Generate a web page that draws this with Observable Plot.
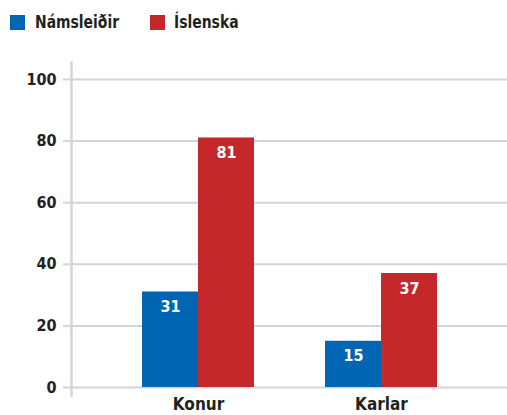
<!DOCTYPE html>
<html><head><meta charset="utf-8">
<script src="https://cdn.jsdelivr.net/npm/d3@7"></script>
<script src="https://cdn.jsdelivr.net/npm/@observablehq/plot@0.6"></script>
<style>
body{margin:0;background:#fff;font-family:"DejaVu Sans Condensed","Liberation Sans Narrow",sans-serif;color:#231f20;}
#legend{position:relative;height:40px;width:507px;font-weight:bold;font-size:18px;}
#legend .sw{position:absolute;top:15px;width:15px;height:15px;}
#legend .lb{position:absolute;top:11px;line-height:22px;transform:scaleX(0.86);transform-origin:left center;white-space:nowrap;}
</style></head>
<body>
<div id="legend"></div>
<div id="chart"></div>
<script>
const groups = ["Konur", "Karlar"];
const series = ["Námsleiðir", "Íslenska"];
const namsleidir = [31, 15];
const islenska = [81, 37];
const yTicks = [0, 20, 40, 60, 80, 100];
const colors = ["#0066b3", "#c4282a"];

const data = groups.flatMap((g, i) => [
  {group: g, series: series[0], value: namsleidir[i]},
  {group: g, series: series[1], value: islenska[i]}
]);

// legend
const leg = document.getElementById("legend");
const legPos = [[10, 35], [150, 174]];
series.forEach((s, i) => {
  const sw = document.createElement("div");
  sw.className = "sw"; sw.style.left = legPos[i][0] + "px"; sw.style.background = colors[i];
  const lb = document.createElement("div");
  lb.className = "lb"; lb.style.left = legPos[i][1] + "px"; lb.textContent = s;
  leg.append(sw, lb);
});

const half = 28;
const s0 = data.filter(d => d.series === series[0]);
const s1 = data.filter(d => d.series === series[1]);

const chart = Plot.plot({
  width: 507,
  height: 375,
  marginLeft: 71,
  marginRight: 0,
  marginTop: 22,
  marginBottom: 20,
  style: {fontFamily: '"DejaVu Sans Condensed","Liberation Sans Narrow",sans-serif', fontSize: "16px", fontWeight: "bold", color: "#231f20", background: "transparent", overflow: "visible"},
  x: {domain: groups, paddingInner: 0.388, paddingOuter: 0.385, axis: null},
  y: {domain: [-2.6, 105.5], axis: null},
  marks: [
    Plot.gridY(yTicks, {stroke: "#d4d4d4", strokeOpacity: 1, strokeWidth: 2}),
    Plot.frame({anchor: "left", stroke: "#d4d4d4", strokeWidth: 2.5}),
    Plot.axisY(yTicks, {tickSize: 8, tickPadding: 7, stroke: "#d4d4d4", strokeWidth: 2, fill: "#231f20", label: null, fontSize: 16}),
    Plot.axisX({tickSize: 0, tickPadding: 2, fill: "#231f20", label: null, fontSize: 17}),
    Plot.barY(s0, {x: "group", y: "value", fill: colors[0], insetRight: 2 * half}),
    Plot.barY(s1, {x: "group", y: "value", fill: colors[1], insetLeft: 2 * half}),
    Plot.text(s0, {x: "group", y: "value", text: d => String(d.value), dx: -half, dy: 15, fill: "white", fontSize: 16, fontWeight: "bold"}),
    Plot.text(s1, {x: "group", y: "value", text: d => String(d.value), dx: half, dy: 15, fill: "white", fontSize: 16, fontWeight: "bold"})
  ]
});
document.getElementById("chart").append(chart);
</script>
</body></html>
